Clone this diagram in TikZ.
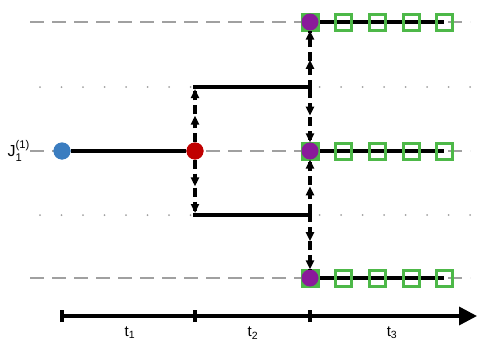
\documentclass[tikz,border=0pt]{standalone}
\usepackage{amsmath}
\usepackage{fontspec}
\setmainfont{Liberation Sans}
\usetikzlibrary{arrows.meta,decorations.markings}
\definecolor{cblue}{HTML}{3B7DC0}
\definecolor{cred}{HTML}{C00000}
\definecolor{cpurple}{HTML}{8A1A9A}
\definecolor{cgreen}{HTML}{4DB848}
\definecolor{cgray}{HTML}{A0A0A0}
\begin{document}
\begin{tikzpicture}[x=1pt,y=-1pt,
  gdash/.style={cgray,line width=2pt,dash pattern=on 14pt off 8pt},
  gdot/.style={cgray,line width=2pt,line cap=round,dash pattern=on 0pt off 21.5pt},
  bline/.style={black,line width=3.5pt},
  dot/.style={circle,inner sep=0pt,minimum size=17pt},
  sq/.style={draw=cgreen,line width=3pt,minimum size=16pt,inner sep=0pt},
  sqf/.style={fill=cgreen,minimum size=19pt,inner sep=0pt},
  dasharr/.style={black,line width=3.4pt,dash pattern=on 9pt off 5pt,
    postaction={decorate},
    decoration={markings,
      mark=at position 0.5 with {\arrow{Triangle[width=8pt,length=9pt]}},
      mark=at position 1 with {\arrow{Triangle[width=8pt,length=9pt]}}}},
  lab/.style={font=\fontsize{15pt}{17pt}\selectfont}
]
\useasboundingbox (0,0) rectangle (477,340);
% gray guide lines
\draw[gdash] (30,22) -- (470,22);
\draw[gdash] (30,151) -- (470,151);
\draw[gdash] (30,278) -- (470,278);
\draw[gdot] (40,87) -- (470,87);
\draw[gdot] (40,215) -- (470,215);
% label
\node[lab,anchor=east,inner sep=1pt,font=\fontsize{16pt}{18pt}\selectfont] (J) at (31,151) {$\text{J}_{\text{1}}^{\text{(1)}}$};
% branch lines
\coordinate (m1) at (193,87);
\coordinate (m2) at (312,87);
\coordinate (l1) at (193,215);
\coordinate (l2) at (312,215);
\draw[bline] (m1) -- (m2);
\draw[bline] (l1) -- (l2);
% green squares and lines
\foreach \yy/\nm in {22/a,151/b,278/c}{
  \draw[bline] (310,\yy) -- (444,\yy);
  \node[sqf] (p\nm) at (310,\yy) {};
  \foreach \xx/\k in {343/1,377/2,411/3,444/4}{
    \node[sq] (s\nm\k) at (\xx,\yy) {};
  }
}
\node[dot,fill=cpurple] (Pa) at (310,22) {};
\node[dot,fill=cpurple] (Pb) at (310,151) {};
\node[dot,fill=cpurple] (Pc) at (310,278) {};
% first line
\node[dot,fill=cblue] (B) at (62,151) {};
\node[dot,fill=cred] (R) at (195,151) {};
\draw[bline] (B) -- (R);
\node[dot,fill=cblue] at (62,151) {};
\node[dot,fill=cred] at (195,151) {};
% dashed arrows
\coordinate (u1) at (195,89);
\coordinate (d1) at (195,213);
\coordinate (mu) at (310,89);
\coordinate (md) at (310,213);
\draw[dasharr] (R.north) -- (u1);
\draw[dasharr] (R.south) -- (d1);
\draw[dasharr] (mu) -- (Pa.south);
\draw[dasharr] (mu) -- (Pb.north);
\draw[dasharr] (md) -- (Pb.south);
\draw[dasharr] (md) -- (Pc.north);
% axis
\coordinate (a0) at (62,316);
\coordinate (a1) at (195,316);
\coordinate (a2) at (310,316);
\coordinate (a3) at (477,316);
\draw[black,line width=3.5pt,-{Triangle[width=18pt,length=18pt]}] (a0) -- (a3);
\foreach \c in {a0,a1,a2}{
  \draw[black,line width=4pt] ([yshift=-6pt]\c) -- ([yshift=6pt]\c);
}
\node[lab] (t1) at (130,333) {t\textsubscript{1}};
\node[lab] (t2) at (253,333) {t\textsubscript{2}};
\node[lab] (t3) at (392,333) {t\textsubscript{3}};
\end{tikzpicture}
\end{document}
